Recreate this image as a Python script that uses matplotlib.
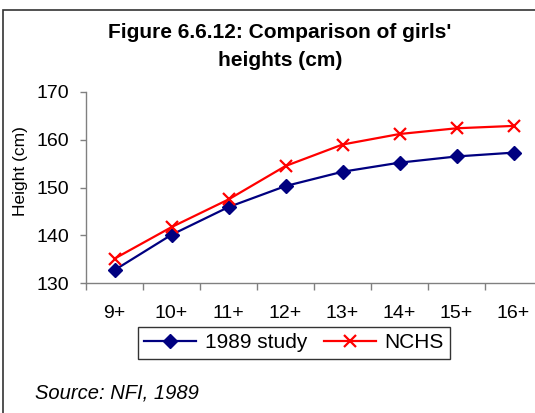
import matplotlib
matplotlib.use("Agg")
import matplotlib.pyplot as plt
from matplotlib.patches import Rectangle

plt.rcParams['font.family'] = ['Liberation Sans', 'DejaVu Sans']

# 年齢グループと身長 (cm)
age_groups = ['9+', '10+', '11+', '12+', '13+', '14+', '15+', '16+']
study_1989 = [132.7, 140.1, 145.9, 150.3, 153.3, 155.2, 156.5, 157.3]
nchs = [135.1, 141.7, 147.5, 154.5, 159.0, 161.2, 162.4, 162.9]

W, H = 535, 413
fig = plt.figure(figsize=(W / 100, H / 100), dpi=100)

# 外枠 (右と下ははみ出している)
fig.patches.append(Rectangle((3 / W, -0.1), 1.2, 1 - 10 / H + 0.1,
                             transform=fig.transFigure, fill=False,
                             edgecolor='#333333', linewidth=1.2))

ax = fig.add_axes([86 / W, 1 - 283 / H, 456 / W, 191 / H])
x = list(range(len(age_groups)))
ax.plot(x, study_1989, color='#000080', linewidth=1.6, marker='D',
        markersize=7, markerfacecolor='#000080', markeredgecolor='#000080',
        label='1989 study')
ax.plot(x, nchs, color='#ff0000', linewidth=1.6, marker='x',
        markersize=9, markeredgewidth=1.6, label='NCHS')

ax.set_xlim(-0.5, len(age_groups) - 0.5)
ax.set_ylim(130, 170)
ax.set_yticks([130, 140, 150, 160, 170])
ax.set_xticks(x)
ax.set_xticklabels(age_groups)
ax.set_xticks([i - 0.5 for i in range(len(age_groups) + 1)], minor=True)
ax.tick_params(axis='x', which='major', length=0, pad=16, labelsize=14)
ax.tick_params(axis='x', which='minor', length=5, width=1, color='#808080')
ax.tick_params(axis='y', length=4, width=1, color='#808080', labelsize=14, pad=8)

for side in ['top', 'right']:
    ax.spines[side].set_visible(False)
for side in ['left', 'bottom']:
    ax.spines[side].set_color('#808080')
    ax.spines[side].set_linewidth(1)
ax.patch.set_alpha(0)

fig.text(21 / W, 1 - 171 / H, 'Height (cm)', rotation=90, ha='center',
         va='center', fontsize=12.5)
fig.text(280 / W, 1 - 46 / H, "Figure 6.6.12: Comparison of girls'\nheights (cm)",
         ha='center', va='center', fontsize=15, fontweight='bold',
         linespacing=1.6)

leg = fig.legend(loc='center', bbox_to_anchor=(294 / W, 1 - 343 / H), ncol=2,
                 fontsize=15, frameon=True, fancybox=False, edgecolor='black',
                 handlelength=2.5, handletextpad=0.4, columnspacing=0.8,
                 borderpad=0.3, borderaxespad=0)
leg.get_frame().set_linewidth(1)

fig.text(35 / W, 1 - 393 / H, 'Source: NFI, 1989', fontstyle='italic',
         fontsize=14.5, ha='left', va='center')

fig.savefig('out.png', dpi=100)
